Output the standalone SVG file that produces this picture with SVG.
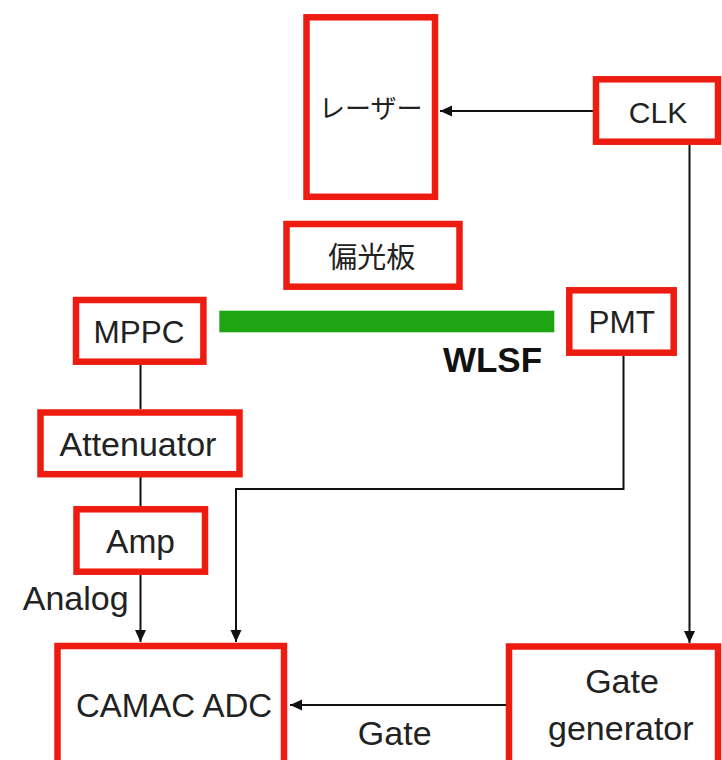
<svg xmlns="http://www.w3.org/2000/svg" width="722" height="760" viewBox="0 0 722 760">
  <style>
    .box { fill: #ffffff; stroke: #ee1b10; stroke-width: 6.5; }
    .lbl { font-family: "Liberation Sans", "Noto Sans CJK JP", sans-serif; fill: #222222; text-anchor: middle; }
    .jp { font-family: "Noto Sans CJK JP", "Liberation Sans", sans-serif; fill: #222222; text-anchor: middle; }
    .wire { fill: none; stroke: #111111; stroke-width: 2; }
  </style>
  <defs>
    <marker id="arrow" markerUnits="userSpaceOnUse" markerWidth="12" markerHeight="12" viewBox="0 0 12 12" refX="12" refY="6" orient="auto">
      <path d="M0,0.5 L12,6 L0,11.5 Z" fill="#111111"/>
    </marker>
  </defs>
  <rect x="0" y="0" width="722" height="760" fill="#ffffff"/>

  <g id="connectors">
    <line class="wire" x1="593" y1="111" x2="440" y2="111" marker-end="url(#arrow)"/>
    <line class="wire" x1="689.5" y1="145" x2="689.5" y2="643" marker-end="url(#arrow)"/>
    <line class="wire" x1="140.5" y1="365" x2="140.5" y2="409"/>
    <line class="wire" x1="140.5" y1="477" x2="140.5" y2="506"/>
    <line class="wire" x1="140.5" y1="575" x2="140.5" y2="642" marker-end="url(#arrow)"/>
    <polyline class="wire" points="623.5,356 623.5,489 236,489 236,642" marker-end="url(#arrow)"/>
    <line class="wire" x1="506" y1="705" x2="290" y2="705" marker-end="url(#arrow)"/>
    <text class="lbl" x="75.7" y="610" font-size="34">Analog</text>
    <text class="lbl" x="394.7" y="745" font-size="34">Gate</text>
  </g>

  <g id="wlsf">
    <rect x="219.3" y="310.7" width="335" height="21.6" fill="#1ea512"/>
    <text x="492.5" y="371.7" font-family="Liberation Sans, Arial, sans-serif" font-weight="bold" font-size="35" fill="#111111" text-anchor="middle">WLSF</text>
  </g>

  <g id="laser">
    <rect class="box" x="306.5" y="17.3" width="128.5" height="179.5"/>
    <text class="jp" x="370.8" y="118" font-size="26">レーザー</text>
  </g>

  <g id="polarizer">
    <rect class="box" x="286.5" y="224" width="173" height="62.7"/>
    <text class="jp" x="371.7" y="267.5" font-size="29">偏光板</text>
  </g>

  <g id="clk">
    <rect class="box" x="596" y="79.3" width="122" height="62.4"/>
    <text class="lbl" x="658" y="123.3" font-size="30">CLK</text>
  </g>

  <g id="pmt">
    <rect class="box" x="569.3" y="290.3" width="104.4" height="62.4"/>
    <text class="lbl" x="621.7" y="333.3" font-size="31.5">PMT</text>
  </g>

  <g id="mppc">
    <rect class="box" x="76" y="300" width="127.4" height="61.7"/>
    <text class="lbl" x="139" y="342.7" font-size="31.5">MPPC</text>
  </g>

  <g id="attenuator">
    <rect class="box" x="40.5" y="412.5" width="199" height="61.7"/>
    <text class="lbl" x="138" y="455.7" font-size="34">Attenuator</text>
  </g>

  <g id="amp">
    <rect class="box" x="76.5" y="509.3" width="128.5" height="62.4"/>
    <text class="lbl" x="140.5" y="553.3" font-size="33.5">Amp</text>
  </g>

  <g id="camac-adc">
    <rect class="box" x="57.5" y="646" width="226.5" height="130"/>
    <text class="lbl" x="174" y="716.7" font-size="33">CAMAC ADC</text>
  </g>

  <g id="gate-generator">
    <rect class="box" x="509" y="646.5" width="209" height="130"/>
    <text class="lbl" x="622" y="693.3" font-size="34">Gate</text>
    <text class="lbl" x="620.8" y="740" font-size="34">generator</text>
  </g>
</svg>
